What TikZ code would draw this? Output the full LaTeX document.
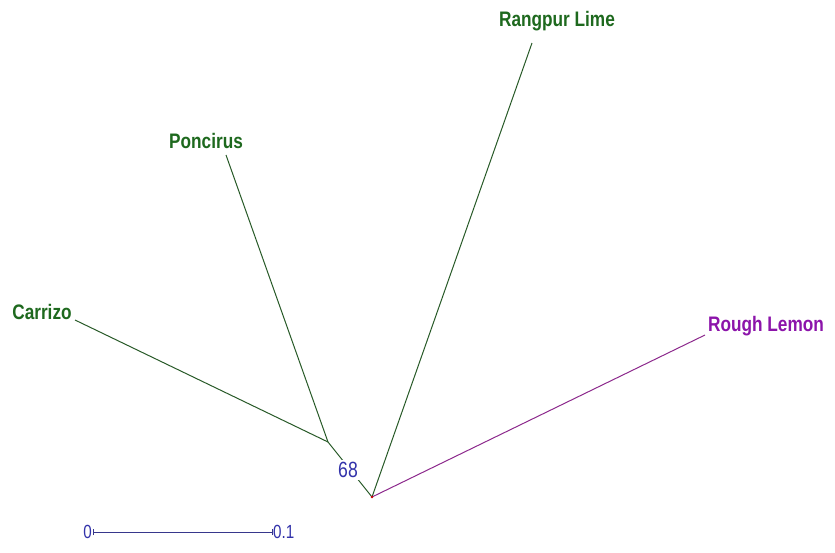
\documentclass[tikz,border=0pt]{standalone}
\usepackage{fontspec}
\setmainfont{Liberation Sans}
\newfontfamily\labfont[FakeStretch=0.82]{Liberation Sans}
\newfontfamily\bootfont[FakeStretch=0.8]{Liberation Sans}
\definecolor{leafgreen}{RGB}{30,105,30}
\definecolor{linegreen}{RGB}{40,90,40}
\definecolor{leafpurple}{RGB}{140,20,170}
\definecolor{linepurple}{RGB}{140,40,140}
\definecolor{scaleblue}{RGB}{50,50,170}
\definecolor{barblue}{RGB}{55,55,140}
\tikzset{
  leaflab/.style={inner sep=0pt, font=\labfont\bfseries\fontsize{21}{23}\selectfont},
  greenbr/.style={draw=linegreen, line width=1pt},
  purplebr/.style={draw=linepurple, line width=1pt},
  numlab/.style={inner sep=0pt, text=scaleblue, font=\bootfont\fontsize{19}{21}\selectfont},
  barline/.style={draw=barblue, line width=1pt}
}
\begin{document}
\begin{tikzpicture}[x=1pt,y=-1pt]
\useasboundingbox[fill=white] (0,0) rectangle (835,552);
% tree nodes
\coordinate (root) at (372,497);
\coordinate (inner) at (328,442);
\coordinate (tcarr) at (75,320);
\coordinate (tponc) at (226,155);
\coordinate (trang) at (532,43);
\coordinate (trough) at (705,335);
% branches
\draw[greenbr] (inner) -- (tcarr);
\draw[greenbr] (inner) -- (tponc);
\draw[greenbr] (root) -- (trang);
\draw[purplebr] (root) -- (trough);
\draw[greenbr] (root) -- (inner);
\fill[red!80!black] (root) circle (1.3);
% labels
\node[leaflab, text=leafgreen] (lcarr) at (42,312) {Carrizo};
\node[leaflab, text=leafgreen] (lponc) at (206,141) {Poncirus};
\node[leaflab, text=leafgreen] (lrang) at (557,21) {Rangpur Lime};
\node[leaflab, text=leafpurple] (lrough) at (766,326) {Rough Lemon};
\node[numlab, fill=white, inner sep=2pt, font=\bootfont\fontsize{22}{24}\selectfont] (boot) at (348,470) {68};
% scale bar
\coordinate (s0) at (93,532);
\coordinate (s1) at (272,532);
\draw[barline] (s0) -- (s1);
\draw[barline, line width=0.6pt] ([yshift=-3]s0) -- ([yshift=3]s0);
\draw[barline, line width=0.6pt] ([yshift=-3]s1) -- ([yshift=3]s1);
\node[numlab, anchor=east] (z0) at ([xshift=-1]s0) {0};
\node[numlab, anchor=west] (z1) at ([xshift=1]s1) {0.1};
\end{tikzpicture}
\end{document}
